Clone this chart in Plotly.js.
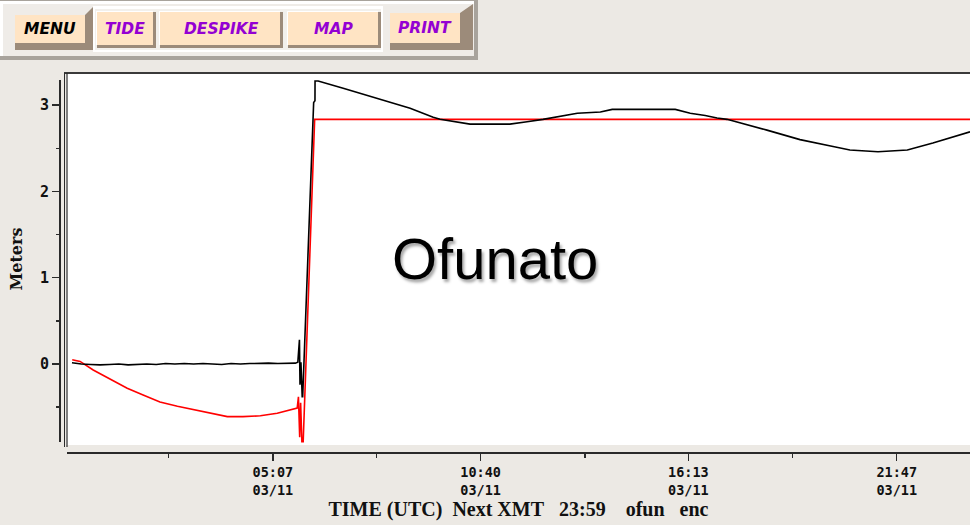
<!DOCTYPE html>
<html>
<head>
<meta charset="utf-8">
<script src="https://cdn.plot.ly/plotly-3.0.1.min.js"></script>
<style>
  html, body { margin: 0; padding: 0; background: #ECE9E4; }
  #chart { width: 970px; height: 525px; }
</style>
</head>
<body>
<div id="chart"></div>
<script>
// ---- Data (time in minutes after 00:00 UTC 03/11, sea level in meters) ----
const observedTime = [-15, 0, 15, 30, 45, 60, 75, 90, 105, 120, 135, 150, 165, 180, 195, 210, 225, 240, 255, 270, 285, 300, 315, 330, 343, 347,
  349.6, 350.5, 352, 354, 354.8, 372.4, 374.5, 374.6, 379.6, 419.7, 474, 527, 564, 575, 623, 687, 714.5, 740, 795, 832, 851, 952, 976, 1000,
  1019, 1035, 1099, 1152, 1205, 1232, 1277, 1324, 1365, 1420, 1424.5];
const observedMeters = [0.015, 0.0, -0.005, -0.01, -0.005, 0.0, -0.01, -0.005, 0.0, -0.005, 0.005, 0.0, 0.005, 0.0, 0.005, 0.0, -0.005, 0.005, 0.0, 0.005, 0.01, 0.01, 0.005, 0.01, 0.01, 0.02,
  0.28, -0.24, 0.02, -0.38, -0.38, 3.03, 3.05, 3.28, 3.28, 3.195, 3.08, 2.963, 2.86, 2.835, 2.78, 2.78, 2.807, 2.835, 2.905, 2.92, 2.95, 2.95, 2.905, 2.88,
  2.85, 2.835, 2.71, 2.60, 2.52, 2.48, 2.46, 2.48, 2.56, 2.68, 2.69];

const modelTime = [-14.6, -2, 19, 46, 73.5, 99, 126, 154, 179, 206.5, 234, 259, 287, 314, 339, 346, 348, 350, 351.5, 353.5, 355.6, 374, 1424.5];
const modelMeters = [0.05, 0.03, -0.07, -0.17, -0.28, -0.36, -0.44, -0.49, -0.53, -0.57, -0.61, -0.61, -0.60, -0.57, -0.53, -0.51, -0.38, -0.85, -0.45, -0.9, -0.9, 2.835, 2.835];

const xTickVals = [307, 640, 973, 1307];
const xTickText = ['05:07<br>03/11', '10:40<br>03/11', '16:13<br>03/11', '21:47<br>03/11'];
const xMinorTicks = [140, 473.5, 807, 1140];
const yTickVals = [0, 1, 2, 3];
const yMinorTicks = [-0.5, 0.5, 1.5, 2.5];
const buttonLabels = ['MENU', 'TIDE', 'DESPIKE', 'MAP', 'PRINT'];
const stationName = 'Ofunato';
const xTitle = 'TIME (UTC)\u00a0\u00a0Next XMT\u00a0\u00a0\u00a023:59\u00a0\u00a0\u00a0\u00a0ofun\u00a0\u00a0\u00a0enc';

// ---- Layout helpers (pixel -> paper) ----
const ML = 60, MR = 0, MT = 73, MB = 72, W = 970, H = 525;
const PW = W - ML - MR, PH = H - MT - MB;
const px = x => (x - ML) / PW;
const py = y => (H - MB - y) / PH;

const BG = '#ECE9E4', PEACH = '#FFE4C4', SHADOW = '#9C8B7A', PURPLE = '#9400D3', AX = '#2a2a2a';

function rect(x0, y0, x1, y1, fill, lineColor, lw) {
  return { type: 'rect', xref: 'paper', yref: 'paper', x0: px(x0), x1: px(x1), y0: py(y1), y1: py(y0),
    fillcolor: fill, line: { color: lineColor || fill, width: lw || 0 }, layer: 'below' };
}
function line(x0, y0, x1, y1, color, w) {
  return { type: 'line', xref: 'paper', yref: 'paper', x0: px(x0), x1: px(x1), y0: py(y0), y1: py(y1),
    line: { color: color, width: w }, layer: 'above' };
}
function poly(pts, fill) {
  const d = 'M' + pts.map(p => px(p[0]) + ',' + py(p[1])).join('L') + 'Z';
  return { type: 'path', xref: 'paper', yref: 'paper', path: d, fillcolor: fill, line: { width: 0 }, layer: 'below' };
}

const shapes = [
  // plot white box
  rect(66, 73, 975, 445, '#FFFFFF'),
  line(64, 73, 975, 73, '#3a3a3a', 2),
  line(64.5, 73, 64.5, 447, '#2a2a2a', 1),
  line(67, 73, 67, 447, '#2a2a2a', 1.2),
  line(60, 80, 60, 442, AX, 2),
  // button panel
  rect(0, 0, 478, 60, '#A8A39C'),
  rect(0, 1, 474, 56, '#FFFFFF'),
  rect(3, 4, 474, 56, '#EFECE8'),
  // MENU button 3D
  poly([[85, 15], [93, 7], [93, 50], [15, 50], [15, 43], [85, 43]], SHADOW),
  rect(15, 15, 85, 43, PEACH),
  // middle group container
  rect(93, 6, 383, 52, '#FFFFFF'),
  rect(95, 9, 381, 50, '#F2F0EC'),
  // TIDE
  rect(97, 12, 156, 48, SHADOW), rect(96, 11, 153, 45, '#FFFFFF'), rect(97, 12, 153, 45, PEACH),
  // DESPIKE
  rect(160, 12, 283, 48, SHADOW), rect(159, 11, 280, 45, '#FFFFFF'), rect(160, 12, 280, 45, PEACH),
  // MAP
  rect(288, 12, 381, 48, SHADOW), rect(287, 11, 378, 45, '#FFFFFF'), rect(288, 12, 378, 45, PEACH),
  // PRINT button 3D
  poly([[460, 13], [473, 4], [473, 50], [390, 50], [390, 43], [460, 43]], SHADOW),
  rect(390, 13, 460, 43, PEACH)
];

const btnPos = [[50, 29], [125, 29], [221, 29], [333, 29], [425, 28]];
const annotations = buttonLabels.map((t, i) => ({
  xref: 'paper', yref: 'paper', x: px(btnPos[i][0]), y: py(btnPos[i][1]), text: t, showarrow: false,
  xanchor: 'center', yanchor: 'middle',
  font: { family: 'DejaVu Sans', size: 15.5, weight: 'bold', style: 'italic', color: i === 0 ? '#000000' : PURPLE }
}));
annotations.push({
  xref: 'paper', yref: 'paper', x: px(495), y: py(258), text: stationName, showarrow: false,
  xanchor: 'center', yanchor: 'middle',
  font: { family: 'Liberation Sans, Arial, sans-serif', size: 58, color: '#000000', shadow: '2px 3px 3px rgba(0,0,0,0.35)' }
});

const traces = [
  { x: modelTime, y: modelMeters, type: 'scatter', mode: 'lines', name: 'model',
    line: { color: '#FF0000', width: 1.6 }, hoverinfo: 'skip' },
  { x: observedTime, y: observedMeters, type: 'scatter', mode: 'lines', name: 'observed',
    line: { color: '#000000', width: 1.6 }, hoverinfo: 'skip' }
];

const layout = {
  width: W, height: H,
  margin: { l: ML, r: MR, t: MT, b: MB, pad: 0 },
  paper_bgcolor: BG, plot_bgcolor: BG,
  showlegend: false,
  xaxis: {
    domain: [px(67), 1], range: [-23, 1424.5], anchor: 'free', position: 0,
    showline: true, linewidth: 2, linecolor: AX, showgrid: false, zeroline: false,
    ticks: 'outside', ticklen: 7, tickwidth: 1.5, tickcolor: AX,
    tickmode: 'array', tickvals: xTickVals, ticktext: xTickText,
    tickfont: { family: 'DejaVu Sans Mono', size: 13.5, weight: 'bold', color: '#111' },
    minor: { tickmode: 'array', tickvals: xMinorTicks, ticks: 'outside', ticklen: 4, tickwidth: 1.5, tickcolor: AX, showgrid: false },
    title: { text: xTitle, standoff: 4, font: { family: 'Liberation Serif', size: 20, weight: 'bold', color: '#111' } },
    fixedrange: true
  },
  yaxis: {
    domain: [py(445), py(73)], range: [-0.9386, 3.372], anchor: 'free', position: 0,
    showline: false, showgrid: false, zeroline: false,
    ticks: 'outside', ticklen: 8, tickwidth: 1.5, tickcolor: AX,
    tickmode: 'array', tickvals: yTickVals, ticktext: yTickVals.map(String),
    tickfont: { family: 'DejaVu Sans Mono', size: 15, weight: 'bold', color: '#111' },
    minor: { tickmode: 'array', tickvals: yMinorTicks, ticks: 'outside', ticklen: 4, tickwidth: 1.5, tickcolor: AX, showgrid: false },
    title: { text: 'Meters', standoff: 12, font: { family: 'DejaVu Serif', size: 16, weight: 'bold', color: '#111' } },
    fixedrange: true
  },
  shapes: shapes,
  annotations: annotations
};

Plotly.newPlot('chart', traces, layout, { displayModeBar: false, staticPlot: true });
</script>
</body>
</html>
